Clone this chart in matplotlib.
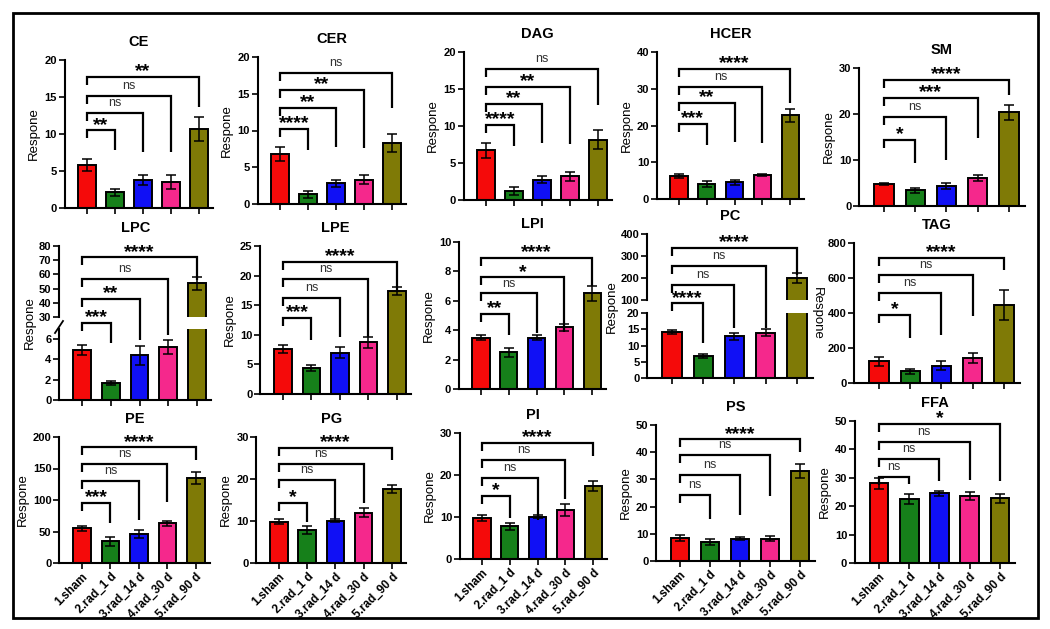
import matplotlib
matplotlib.use("Agg")
import matplotlib.pyplot as plt
from matplotlib.patches import Rectangle
from matplotlib.lines import Line2D

plt.rcParams['font.family'] = ['Liberation Sans', 'DejaVu Sans']

groups = ["1.sham", "2.rad_1 d", "3.rad_14 d", "4.rad_30 d", "5.rad_90 d"]
bar_colors = ["#f50a0a", "#16801a", "#1010f5", "#f5288c", "#7f7a06"]

# mean, sem, bracket heights (sham vs 2..5), right leg ends, significance
CE_mean = [5.8, 2.1, 3.8, 3.5, 10.7]
CE_sem = [0.8, 0.45, 0.7, 0.9, 1.6]
CE_brk = [10.5, 12.9, 15.2, 17.7]
CE_leg = [7.8, 7.6, 7.6, 13.6]
CE_sig = ["**", "ns", "ns", "**"]
CE_ticks = [0, 5, 10, 15, 20]

CER_mean = [6.8, 1.3, 2.8, 3.3, 8.3]
CER_sem = [1.0, 0.5, 0.45, 0.6, 1.2]
CER_brk = [10.2, 13.1, 15.5, 17.8]
CER_leg = [7.4, 7.8, 7.6, 13.0]
CER_sig = ["****", "**", "**", "ns"]
CER_ticks = [0, 5, 10, 15, 20]

DAG_mean = [6.7, 1.2, 2.75, 3.2, 8.15]
DAG_sem = [1.0, 0.5, 0.45, 0.6, 1.25]
DAG_brk = [10.1, 13.0, 15.3, 17.7]
DAG_leg = [7.3, 7.7, 7.6, 12.9]
DAG_sig = ["****", "**", "**", "ns"]
DAG_ticks = [0, 5, 10, 15, 20]

HCER_mean = [6.3, 4.0, 4.5, 6.5, 22.8]
HCER_sem = [0.5, 0.8, 0.6, 0.3, 1.8]
HCER_brk = [20.5, 26.1, 30.6, 35.4]
HCER_leg = [14.6, 15.4, 15.2, 26.1]
HCER_sig = ["***", "**", "ns", "****"]
HCER_ticks = [0, 10, 20, 30, 40]

SM_mean = [4.7, 3.4, 4.3, 6.1, 20.4]
SM_sem = [0.2, 0.5, 0.6, 0.6, 1.6]
SM_brk = [14.3, 19.4, 23.5, 27.5]
SM_leg = [9.4, 10.0, 14.7, 24.2]
SM_sig = ["*", "ns", "***", "****"]
SM_ticks = [0, 10, 20, 30]

LPC_mean = [4.9, 1.7, 4.4, 5.2, 53.8]
LPC_sem = [0.5, 0.2, 0.9, 0.7, 4.7]
LPC_brk = [26.0, 42.7, 56.8, 72.0]
LPC_leg = [11.5, 13.8, 17.3, 56.0]
LPC_sig = ["***", "**", "ns", "****"]
LPC_low_ticks = [0, 2, 4, 6]
LPC_up_ticks = [30, 40, 50, 60, 70, 80]

LPE_mean = [7.6, 4.4, 7.0, 8.7, 17.4]
LPE_sem = [0.7, 0.5, 0.9, 1.0, 0.6]
LPE_brk = [12.9, 16.3, 19.4, 22.3]
LPE_leg = [9.2, 9.7, 9.7, 17.6]
LPE_sig = ["***", "ns", "ns", "****"]
LPE_ticks = [0, 5, 10, 15, 20, 25]

LPI_mean = [3.5, 2.5, 3.5, 4.2, 6.5]
LPI_sem = [0.15, 0.3, 0.15, 0.25, 0.5]
LPI_brk = [5.1, 6.5, 7.6, 8.9]
LPI_leg = [3.7, 3.8, 3.9, 7.0]
LPI_sig = ["**", "ns", "*", "****"]
LPI_ticks = [0, 2, 4, 6, 8, 10]

PC_mean = [14.2, 6.8, 12.8, 14.0, 200]
PC_sem = [0.7, 0.7, 1.0, 1.2, 23]
PC_brk = [85, 168, 255, 338]
PC_leg = [-97, -29, -29, 214]
PC_sig = ["****", "ns", "ns", "****"]
PC_low_ticks = [0, 5, 10, 15, 20]
PC_up_ticks = [100, 200, 300, 400]

TAG_mean = [124, 67, 98, 144, 446]
TAG_sem = [25, 15, 26, 30, 86]
TAG_brk = [388, 513, 618, 717]
TAG_leg = [255, 274, 383, 647]
TAG_sig = ["*", "ns", "ns", "****"]
TAG_ticks = [0, 200, 400, 600, 800]

PE_mean = [54.8, 34.6, 45.7, 62.8, 134.6]
PE_sem = [3.7, 6.9, 6.3, 3.7, 9.4]
PE_brk = [95.7, 130.9, 157.4, 183.5]
PE_leg = [63.8, 68, 97.3, 163.8]
PE_sig = ["***", "ns", "ns", "****"]
PE_ticks = [0, 50, 100, 150, 200]

PG_mean = [9.8, 7.8, 10.1, 12.0, 17.6]
PG_sem = [0.6, 1.0, 0.4, 1.0, 1.0]
PG_brk = [14.4, 19.8, 23.6, 27.5]
PG_leg = [9.8, 10.5, 14.2, 24.6]
PG_sig = ["*", "ns", "ns", "****"]
PG_ticks = [0, 10, 20, 30]

PI_mean = [9.8, 7.8, 10.1, 11.6, 17.4]
PI_sem = [0.7, 0.8, 0.3, 1.4, 1.2]
PI_brk = [15.0, 19.4, 23.5, 27.6]
PI_leg = [9.7, 9.3, 14.4, 24.5]
PI_sig = ["*", "ns", "ns", "****"]
PI_ticks = [0, 10, 20, 30]

PS_mean = [8.5, 7.0, 8.2, 8.2, 33.0]
PS_sem = [1.0, 1.0, 0.6, 1.0, 2.6]
PS_brk = [24.2, 31.8, 38.9, 44.7]
PS_leg = [15.6, 16.8, 24.0, 40.2]
PS_sig = ["ns", "ns", "ns", "****"]
PS_ticks = [0, 10, 20, 30, 40, 50]

FFA_mean = [28.0, 22.4, 24.5, 23.7, 22.8]
FFA_sem = [1.8, 1.8, 1.0, 1.4, 1.5]
FFA_brk = [30.4, 36.6, 42.6, 49.1]
FFA_leg = [27.7, 29.0, 29.2, 29.0]
FFA_sig = ["ns", "ns", "ns", "*"]
FFA_ticks = [0, 10, 20, 30, 40, 50]

W, H = 1050, 629
fig = plt.figure(figsize=(W / 100, H / 100), dpi=100)


def rect(l, r, t, b):
    return [l / W, 1 - b / H, (r - l) / W, (b - t) / H]


def draw_bars(ax, mean, sem):
    x = range(len(mean))
    ax.bar(x, mean, width=0.62, color=bar_colors, edgecolor='black', linewidth=1.4, zorder=2)
    ax.errorbar(x, mean, yerr=sem, fmt='none', ecolor='black', elinewidth=1.1,
                capsize=3.5, capthick=1.1, zorder=3)


def style(ax, ticks, show_x, bottom=True):
    ax.set_xlim(-0.8, 4.5)
    ax.set_ylim(ticks[0], ticks[-1])
    for s in ['top', 'right']:
        ax.spines[s].set_visible(False)
    ax.spines['left'].set_linewidth(1.5)
    ax.spines['bottom'].set_linewidth(1.5)
    ax.set_yticks(ticks, labels=[str(t) for t in ticks], fontsize=8, fontweight='bold')
    ax.tick_params(direction='out', length=4, width=1.2, pad=1.5)
    ax.set_facecolor('none')
    if not bottom:
        ax.spines['bottom'].set_visible(False)
        ax.set_xticks([])
    elif show_x:
        ax.set_xticks(range(5), labels=groups, rotation=45, ha='right',
                      rotation_mode='anchor', fontsize=8.5, fontweight='bold')
    else:
        ax.set_xticks(range(5), labels=[])


def brackets(ax, brk, leg, sig, px_per_unit):
    drop = 8 / px_per_unit
    for j in range(4):
        x2 = j + 1
        h = brk[j]
        ax.plot([0, 0, x2, x2], [h - drop, h, h, leg[j]], color='black', lw=1.6,
                clip_on=False, solid_joinstyle='miter', solid_capstyle='butt', zorder=4)
        if sig[j] == 'ns':
            ax.annotate('ns', (x2 / 2, h), xytext=(0, 5), textcoords='offset points',
                        ha='center', va='baseline', fontsize=9, color='#333333',
                        annotation_clip=False)
        else:
            ax.annotate(sig[j], (x2 / 2, h), xytext=(0, 0.5), textcoords='offset points',
                        ha='center', va='baseline', fontsize=14, fontweight='bold',
                        annotation_clip=False)


normal = [
    ("CE", CE_mean, CE_sem, CE_brk, CE_leg, CE_sig, CE_ticks, (64.6, 213, 60, 208), False),
    ("CER", CER_mean, CER_sem, CER_brk, CER_leg, CER_sig, CER_ticks, (257.6, 406, 57, 204), False),
    ("DAG", DAG_mean, DAG_sem, DAG_brk, DAG_leg, DAG_sig, DAG_ticks, (463.6, 612, 52, 200), False),
    ("HCER", HCER_mean, HCER_sem, HCER_brk, HCER_leg, HCER_sig, HCER_ticks, (656.8, 804, 52, 199), False),
    ("SM", SM_mean, SM_sem, SM_brk, SM_leg, SM_sig, SM_ticks, (859, 1024.6, 68, 206), False),
    ("LPE", LPE_mean, LPE_sem, LPE_brk, LPE_leg, LPE_sig, LPE_ticks, (260.2, 411, 246, 394), False),
    ("LPI", LPI_mean, LPI_sem, LPI_brk, LPI_leg, LPI_sig, LPI_ticks, (458.8, 606, 242, 389), False),
    ("TAG", TAG_mean, TAG_sem, TAG_brk, TAG_leg, TAG_sig, TAG_ticks, (854, 1019.6, 243, 383), False),
    ("PE", PE_mean, PE_sem, PE_brk, PE_leg, PE_sig, PE_ticks, (59.2, 210, 437, 563), True),
    ("PG", PG_mean, PG_sem, PG_brk, PG_leg, PG_sig, PG_ticks, (256.4, 406, 437, 563), True),
    ("PI", PI_mean, PI_sem, PI_brk, PI_leg, PI_sig, PI_ticks, (459.8, 607, 433, 559), True),
    ("PS", PS_mean, PS_sem, PS_brk, PS_leg, PS_sig, PS_ticks, (656, 815, 425, 561), True),
    ("FFA", FFA_mean, FFA_sem, FFA_brk, FFA_leg, FFA_sig, FFA_ticks, (854.8, 1015, 421, 563), True),
]

for name, mean, sem, brk, leg, sig, ticks, box, show_x in normal:
    ax = fig.add_axes(rect(*box))
    draw_bars(ax, mean, sem)
    style(ax, ticks, show_x)
    brackets(ax, brk, leg, sig, (box[3] - box[2]) / (ticks[-1] - ticks[0]))
    ax.set_title(name, fontsize=10.5, fontweight='bold', pad=10)
    if name == "TAG":
        ax.set_ylabel('Respone', fontsize=9.5, rotation=270, labelpad=12)
    else:
        ax.set_ylabel('Respone', fontsize=9.5, labelpad=3)

# broken-axis panels: LPC and PC
broken = [
    ("LPC", LPC_mean, LPC_sem, LPC_brk, LPC_leg, LPC_sig, LPC_low_ticks, LPC_up_ticks, 7.0,
     (59, 211.4), (246, 317), (329, 400), (30, 323)),
    ("PC", PC_mean, PC_sem, PC_brk, PC_leg, PC_sig, PC_low_ticks, PC_up_ticks, 20,
     (647, 812.6), (234, 300), (313, 378), (612, 307)),
]

for name, mean, sem, brk, leg, sig, lt, ut, ltop, xs, up, lo, lab in broken:
    axl = fig.add_axes(rect(xs[0], xs[1], lo[0], lo[1]))
    draw_bars(axl, mean, sem)
    style(axl, lt, False)
    axl.set_ylim(0, ltop)
    axu = fig.add_axes(rect(xs[0], xs[1], up[0], up[1]))
    draw_bars(axu, mean, sem)
    style(axu, ut, False, bottom=False)
    brackets(axu, brk, leg, sig, (up[1] - up[0]) / (ut[-1] - ut[0]))
    axu.set_title(name, fontsize=10.5, fontweight='bold', pad=10)
    fig.text(lab[0] / W, 1 - lab[1] / H, 'Respone', fontsize=9.5, rotation=90,
             ha='center', va='center')
    if name == "LPC":
        sx = axl.get_position().x0
        fig.add_artist(Line2D([sx - 4 / W, sx + 4 / W],
                              [1 - 333 / H, 1 - 321 / H], color='black', lw=1.3))

fig.patches.append(Rectangle((13 / W, 1 - 618 / H), (1038 - 13) / W, (618 - 13) / H,
                             transform=fig.transFigure, fill=False, lw=2, ec='black'))

fig.savefig('out.png', dpi=100)
